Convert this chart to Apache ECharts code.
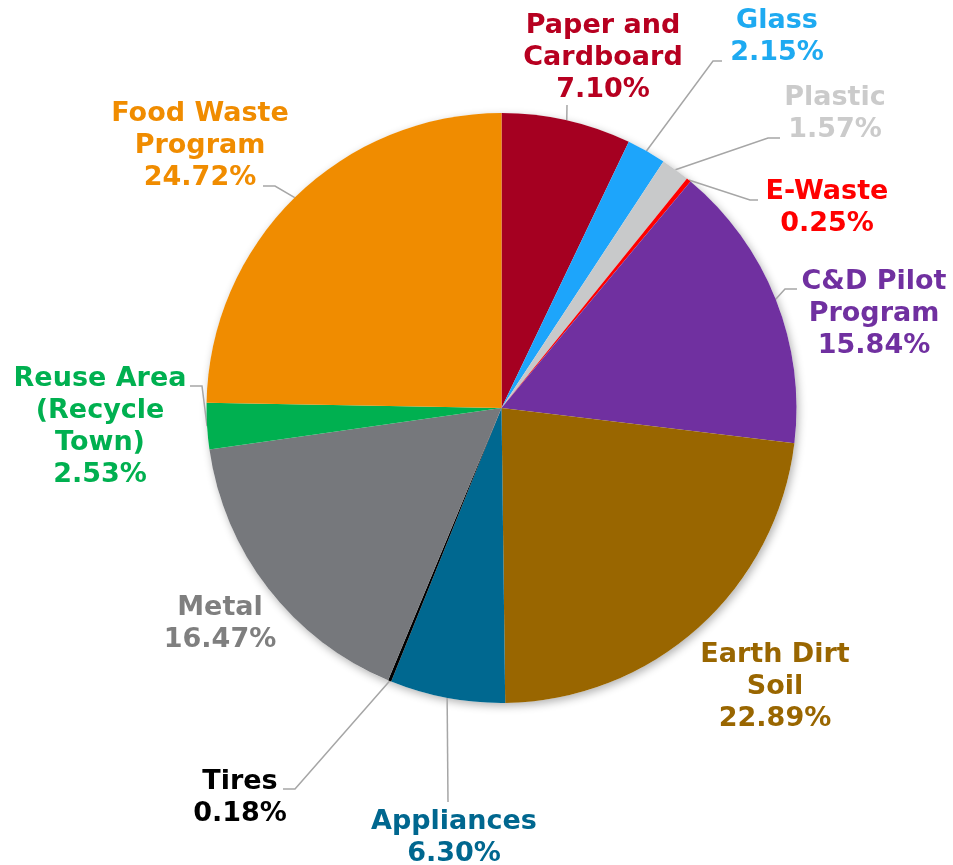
<!DOCTYPE html>
<html><head><meta charset="utf-8">
<script src="https://cdn.jsdelivr.net/npm/echarts@6/dist/echarts.min.js"></script>
<style>html,body{margin:0;padding:0;background:#fff}#c{width:953px;height:865px}</style>
</head><body><div id="c"></div>
<script>
// ---- data ----
const categories = ['Paper and\nCardboard', 'Glass', 'Plastic', 'E-Waste', 'C&D Pilot\nProgram',
  'Earth Dirt\nSoil', 'Appliances', 'Tires', 'Metal', 'Reuse Area\n(Recycle\nTown)', 'Food Waste\nProgram'];
const shares = [7.10, 2.15, 1.57, 0.25, 15.84, 22.89, 6.30, 0.18, 16.47, 2.53, 24.72];

// ---- styles ----
const sliceColors = ['#A50021', '#1DA5FB', '#C8C9CA', '#FF0000', '#7030A0', '#996600',
  '#006890', '#000000', '#76787C', '#00B050', '#F08C00'];
const labelColors = ['#B70020', '#1EAAF1', '#CBCBCB', '#FF0000', '#7030A0', '#996600',
  '#00678F', '#000000', '#7F7F7F', '#00B050', '#F08C00'];

// ---- label placement (label centre, guide-line points after the slice edge) ----
const labelPlacement = [
  { c: [603, 58],  line: [[567, 105]] },
  { c: [777, 37],  line: [[713, 61], [722, 61]] },
  { c: [835, 114], line: [[768, 138], [780, 138]] },
  { c: [827, 208], line: [[750, 200], [758, 200]] },
  { c: [874, 314], line: [[785, 289], [797, 289]] },
  { c: [775, 687], line: null },
  { c: [454, 838], line: [[448, 802]] },
  { c: [240, 798], line: [[295, 789], [283, 789]] },
  { c: [220, 624], line: null },
  { c: [100, 427], line: [[202, 386], [190, 386]] },
  { c: [200, 146], line: [[275, 186], [263, 186]] }
];

const pieCenter = [501.5, 408];
const pieRadius = 295;
const total = shares.reduce((a, b) => a + b, 0);

function edgePoint(i) {
  let cum = 0;
  for (let k = 0; k < i; k++) cum += shares[k];
  const frac = (cum + shares[i] / 2) / total;
  const ang = (90 - 360 * frac) * Math.PI / 180;
  return [pieCenter[0] + pieRadius * Math.cos(ang), pieCenter[1] - pieRadius * Math.sin(ang)];
}

const data = categories.map((name, i) => ({
  name: name,
  value: shares[i],
  itemStyle: { color: sliceColors[i] },
  label: { color: labelColors[i] },
  labelLine: { show: !!labelPlacement[i].line }
}));

const chart = echarts.init(document.getElementById('c'), null, { renderer: 'canvas' });
chart.setOption({
  backgroundColor: '#ffffff',
  animation: false,
  series: [
    {
      type: 'pie',
      silent: true,
      center: pieCenter,
      radius: pieRadius,
      label: { show: false },
      labelLine: { show: false },
      itemStyle: { color: '#ffffff', shadowBlur: 9, shadowColor: 'rgba(0,0,0,0.3)', shadowOffsetX: 2, shadowOffsetY: 3 },
      data: [{ value: 1, name: '' }],
      z: 1
    },
    {
      type: 'pie',
      silent: true,
      z: 2,
      center: pieCenter,
      radius: pieRadius,
      startAngle: 90,
      clockwise: true,
      avoidLabelOverlap: false,
      data: data,
      itemStyle: { borderWidth: 0 },
      label: {
        show: true,
        position: 'outside',
        formatter: p => p.name + '\n' + shares[p.dataIndex].toFixed(2) + '%',
        fontFamily: 'DejaVu Sans',
        fontWeight: 'bold',
        fontSize: 27,
        lineHeight: 32,
        align: 'center'
      },
      labelLine: {
        show: true,
        length: 10,
        length2: 10,
        lineStyle: { color: '#A6A6A6', width: 1.5 }
      },
      labelLayout: function (params) {
        const i = params.dataIndex;
        const pl = labelPlacement[i];
        const out = { x: pl.c[0], y: pl.c[1], align: 'center', verticalAlign: 'middle' };
        if (pl.line) {
          const pts = [edgePoint(i)].concat(pl.line);
          if (pts.length < 3) pts.push(pts[pts.length - 1].slice());
          out.labelLinePoints = pts;
        }
        return out;
      }
    }
  ]
});
</script>
</body></html>
